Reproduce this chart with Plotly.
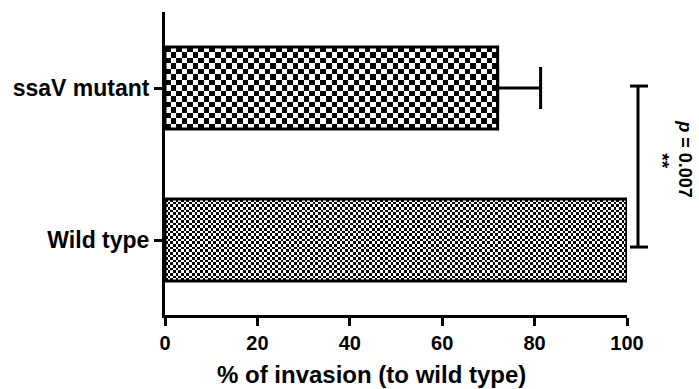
import numpy as np
import plotly.graph_objects as go

categories = ["Wild type", "ssaV mutant"]
positions = [0, 1]
values = [100, 72]
errors_plus = [0, 9.3]
x_ticks = [0, 20, 40, 60, 80, 100]
sig_label = "**"
p_label = "<i>p</i> = 0.007"

FONT = "Liberation Sans, Arial, sans-serif"
BAR_W = 0.54
# checker cell size per bar (x in data units, y in category units) - style only
cell_x = [0.58, 1.2]
cell_y = [0.0175, 0.035]

fig = go.Figure()

# checkerboard fill for each bar (style), bounded by the bar's own data extents
for pos, val, cx, cy in zip(positions, values, cell_x, cell_y):
    nx = max(1, int(round(val / cx)))
    ny = max(1, int(round(BAR_W / cy)))
    xe = np.linspace(0, val, nx + 1)
    ye = np.linspace(pos - BAR_W / 2, pos + BAR_W / 2, ny + 1)
    ii, jj = np.meshgrid(np.arange(nx), np.arange(ny))
    z = ((ii + jj) % 2).astype(float)
    fig.add_trace(go.Heatmap(
        x=xe, y=ye, z=z, zmin=0, zmax=1, zsmooth=False,
        colorscale=[[0, "black"], [1, "white"]], showscale=False,
        hoverinfo="skip",
    ))

fig.add_trace(go.Bar(
    y=positions, x=values, orientation="h", width=BAR_W,
    marker=dict(color="rgba(0,0,0,0)", line=dict(color="black", width=3)),
    error_x=dict(type="data", symmetric=False, array=errors_plus,
                 arrayminus=[0, 0], color="black", thickness=3, width=21),
    showlegend=False,
))

# significance bracket
fig.add_shape(type="line", xref="paper", yref="y", x0=1.0238, x1=1.0238,
              y0=-0.046, y1=1.013, line=dict(color="black", width=3))
for yy in (-0.046, 1.013):
    fig.add_shape(type="line", xref="paper", yref="y", x0=1.0065, x1=1.0455,
                  y0=yy, y1=yy, line=dict(color="black", width=3))

fig.add_annotation(xref="paper", yref="y", x=1.102, y=0.52, text=sig_label,
                   textangle=90, showarrow=False,
                   font=dict(family=FONT, size=19, color="black", weight="bold"))
fig.add_annotation(xref="paper", yref="y", x=1.15, y=0.53, text=p_label,
                   textangle=90, showarrow=False,
                   font=dict(family=FONT, size=18, color="black", weight="bold"))

fig.add_annotation(xref="paper", yref="paper", x=0.446, y=-0.198,
                   text="% of invasion (to wild type)", showarrow=False,
                   xanchor="center", yanchor="middle",
                   font=dict(family=FONT, size=24, color="black", weight="bold"))

fig.update_layout(
    width=699, height=389,
    margin=dict(l=165, r=72, t=12, b=74, autoexpand=False),
    plot_bgcolor="white", paper_bgcolor="white",
    font=dict(family=FONT, color="black", weight="bold"),
    xaxis=dict(range=[0, 100], tickvals=x_ticks, ticks="outside", ticklen=8,
               tickwidth=3, tickcolor="black", showline=True, linewidth=3,
               linecolor="black", showgrid=False, zeroline=False,
               tickfont=dict(size=20, family=FONT, weight="bold")),
    yaxis=dict(range=[-0.493, 1.5], tickvals=positions, ticktext=categories,
               ticks="outside", ticklen=8, tickwidth=3, tickcolor="black",
               showline=True, linewidth=3, linecolor="black", showgrid=False,
               zeroline=False,
               tickfont=dict(size=23, family=FONT, weight="bold")),
)

fig.write_html("out.html")
